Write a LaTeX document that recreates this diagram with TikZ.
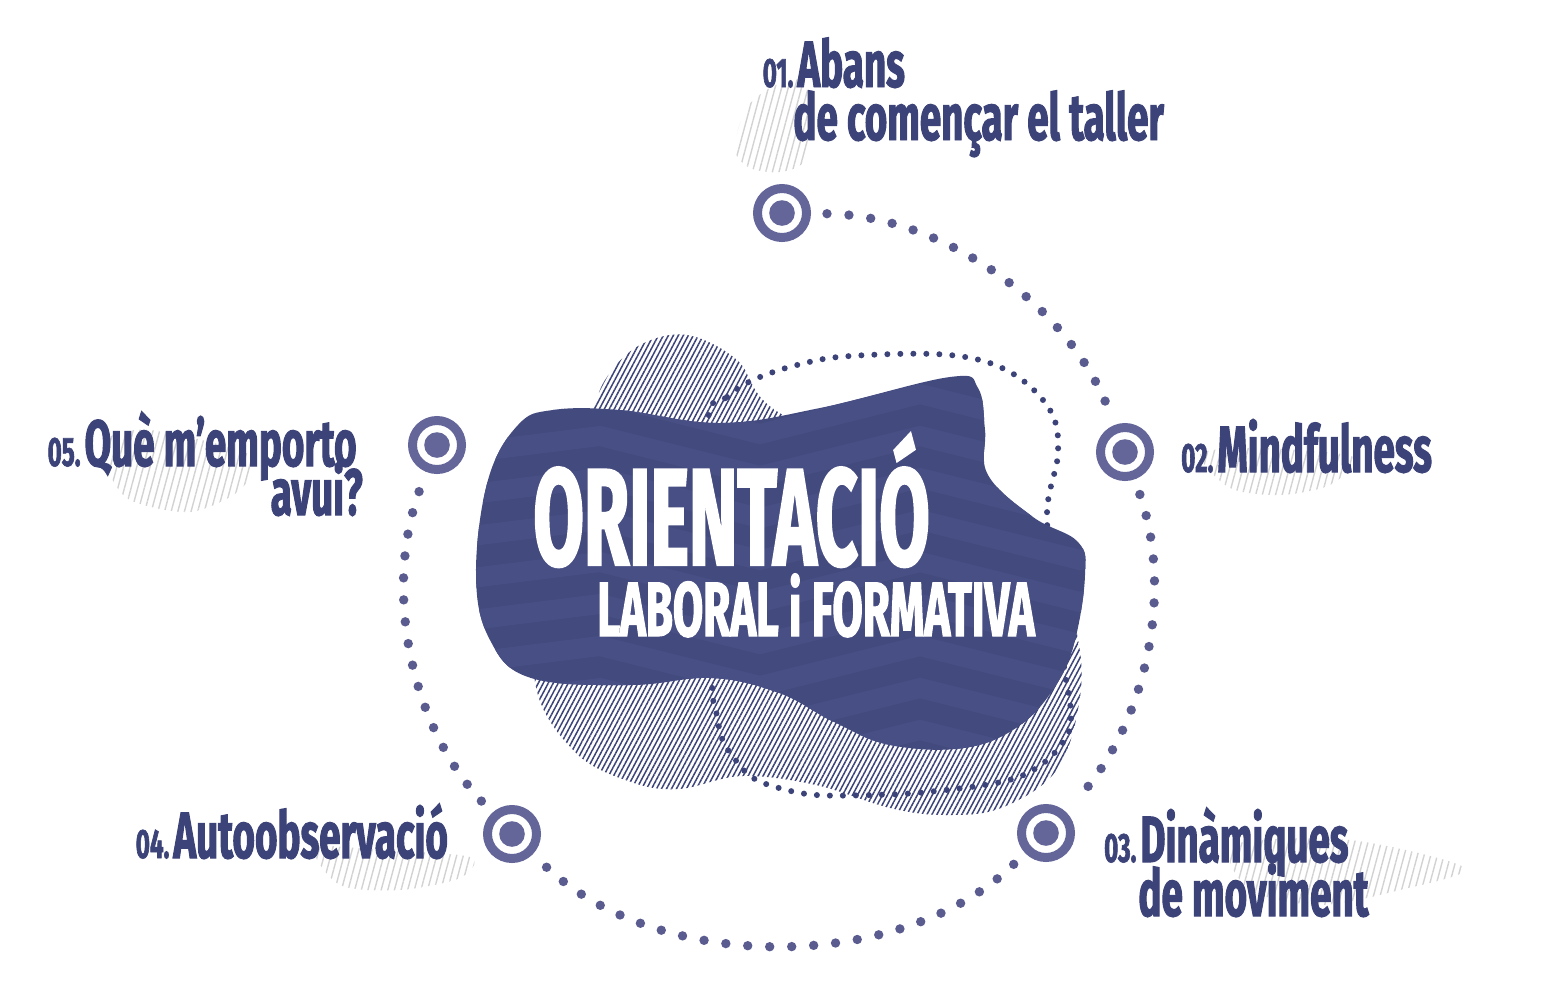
\documentclass[tikz,border=0pt]{standalone}
\usepackage{fontspec}
\usetikzlibrary{positioning,patterns.meta}

\newfontfamily\stagefont[FakeStretch=0.59, FakeBold=1.5]{Fira Sans}
\newfontfamily\bigfont[FakeStretch=0.53, FakeBold=1.5]{Fira Sans}
\newfontfamily\subfont[FakeStretch=0.57, FakeBold=1.5]{Fira Sans}

\definecolor{ink}{HTML}{3C4378}
\definecolor{blobc}{HTML}{424A7E}
\definecolor{bandc}{HTML}{484F84}
\definecolor{ringc}{HTML}{64669A}
\definecolor{dotc}{HTML}{5A5C90}
\definecolor{ghostc}{HTML}{D2D2D2}

\newcommand{\nr}[1]{\llap{{\fontsize{20.5}{20}\selectfont #1}\hspace{2pt}}}
\newcommand{\blobpath}{plot[smooth cycle, tension=0.65] coordinates {(553,410) (620,410) (720,423) (820,408) (950,377) (978,388) (985,430) (988,475) (1033,517) (1078,542) (1085,575) (1075,640) (1056,685) (1019,726) (964,748) (890,745) (834,722) (779,693) (712,678) (631,685) (531,678) (490,640) (476,575) (488,480) (518,425)}}

\tikzset{stage/.style={circle, draw=ringc, fill=white, line width=4.5pt, minimum size=24.5pt, inner sep=0pt,
    path picture={\fill[ringc] (path picture bounding box.center) circle (6.4pt);}}}
\tikzset{track/.style={draw=dotc, line width=4.7pt, line cap=round, dash pattern=on 0pt off 11pt, shorten <=8pt, shorten >=8pt, looseness=0.9}}
\tikzset{loopdots/.style={draw=ink, line width=3pt, line cap=round, dash pattern=on 0pt off 6.5pt}}
\tikzset{lbl/.style={inner sep=0pt, anchor=base west, text=ink, font=\stagefont\bfseries\fontsize{32.7}{30}\selectfont}}
\tikzset{headline/.style={inner sep=0pt, anchor=base west, text=white, font=\bigfont\bfseries\fontsize{69}{70}\selectfont}}
\tikzset{subline/.style={inner sep=0pt, anchor=base west, text=white, font=\subfont\bfseries\fontsize{38.5}{40}\selectfont}}
\tikzset{ghost/.style={pattern={Lines[angle=75, distance=3.2pt, line width=0.7pt]}, pattern color=ghostc}}
\tikzset{hatch/.style={pattern={Lines[angle=62, distance=2.2pt, line width=0.75pt]}, pattern color=ink}}

\begin{document}
\begin{tikzpicture}[x=0.5pt, y=-0.5pt]
    \useasboundingbox (0,0) rectangle (1568,1002);

    % grey stripes behind the labels
    \fill[ghost] plot[smooth cycle] coordinates {(735,150) (745,110) (770,88) (800,80) (812,110) (805,160) (780,172) (750,168)};
    \fill[ghost] plot[smooth cycle] coordinates {(1200,455) (1240,448) (1300,450) (1355,458) (1330,485) (1280,495) (1230,488)};
    \fill[ghost] plot[smooth cycle] coordinates {(1233,845) (1350,840) (1465,868) (1400,890) (1320,905) (1250,890)};
    \fill[ghost] plot[smooth cycle] coordinates {(315,848) (380,850) (470,857) (460,878) (400,890) (340,885)};
    \fill[ghost] plot[smooth cycle] coordinates {(105,440) (150,430) (250,455) (240,490) (190,512) (130,500) (108,470)};

    % hatched blob behind
    \fill[hatch] plot[smooth cycle, tension=0.6] coordinates {(590,420) (607,377) (640,345) (687,335) (737,360) (775,410) (900,470) (1050,560) (1078,640) (1079,704) (1056,771) (1001,808) (945,815) (890,808) (816,785) (742,776) (679,789) (631,782) (575,752) (535,682) (545,560)};

    % dotted loop
    \draw[loopdots] plot[smooth cycle, tension=0.6] coordinates {(708,420) (727,397) (753,380) (797,365) (850,356) (950,355) (1010,372) (1050,410) (1058,453) (1047,513) (1055,600) (1064,667) (1071,715) (1064,741) (1038,767) (1001,782) (927,792) (871,795) (816,795) (779,788) (753,778) (738,763) (723,741) (716,711) (712,685) (708,560)};

    % main blob
    \fill[blobc] \blobpath;
    \begin{scope}
        \clip \blobpath;
        \foreach \y in {330,372,...,800}
            \draw[bandc, line width=10pt] (440,\y) -- (600,\y-20) -- (760,\y+20) -- (920,\y-20) -- (1080,\y+20) -- (1140,\y);
    \end{scope}

    \node[headline] (ttl) at (533,565) {ORIENTACIÓ};
    \node[subline] (sub) at (597,636) {LABORAL i FORMATIVA};

    % stages on the ring
    \node[stage] (m1) at (782,213) {};
    \node[stage] (m2) at (1125,452) {};
    \node[stage] (m3) at (1046,833) {};
    \node[stage] (m4) at (512,834) {};
    \node[stage] (m5) at (437,445) {};

    \draw[track] (m1) to[bend left=34] (m2);
    \draw[track] (m2) to[bend left=31] (m3);
    \draw[track] (m3) to[bend left=44] (m4);
    \draw[track] (m4) to[bend left=32] (m5);

    % labels
    \node[lbl] (l1a) at (797,87) {\nr{01.}Abans};
    \node[lbl] (l1b) at (793,140) {de començar el taller};
    \node[lbl] (l2) at (1217,472) {\nr{02.}Mindfulness};
    \node[lbl] (l3a) at (1140,862) {\nr{03.}Dinàmiques};
    \node[lbl] (l3b) at (1138,916) {de moviment};
    \node[lbl] (l4) at (173,858) {\nr{04.}Autoobservació};
    \node[lbl, anchor=base east] (l5a) at (357,466) {\nr{05.}Què m’emporto};
    \node[lbl, anchor=base east] (l5b) at (363,515) {avui?};
\end{tikzpicture}
\end{document}
